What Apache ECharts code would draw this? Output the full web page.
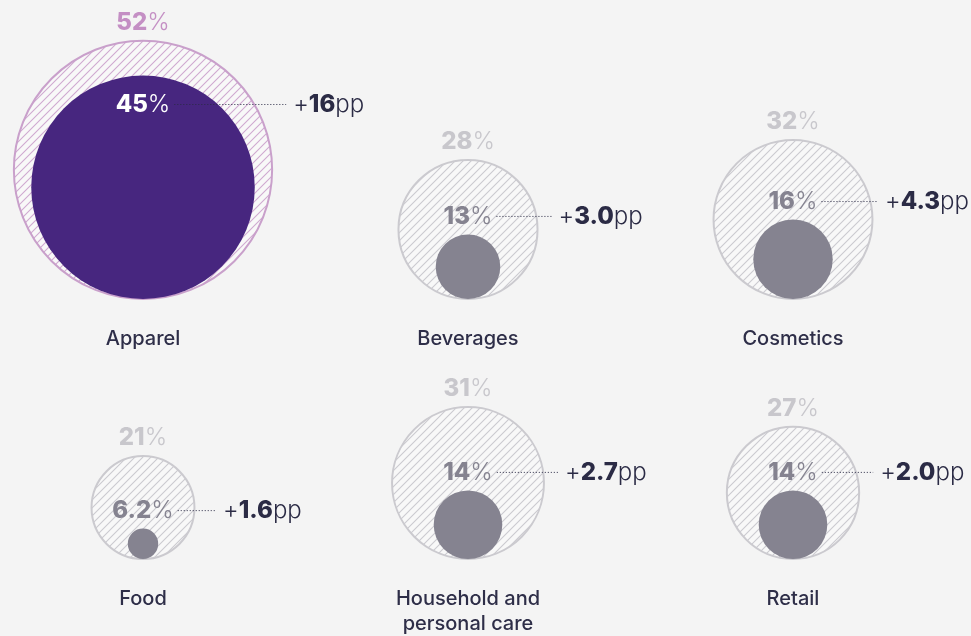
<!DOCTYPE html>
<html>
<head>
<meta charset="utf-8">
<script src="https://cdn.jsdelivr.net/npm/echarts@6/dist/echarts.min.js"></script>
<style>
  html, body { margin: 0; padding: 0; background: #f4f4f4; }
  #chart { width: 971px; height: 636px; }
</style>
</head>
<body>
<div id="chart"></div>
<script>
// categories, two rows of three
const rowOneCats = ['Apparel', 'Beverages', 'Cosmetics'];
const rowTwoCats = ['Food', 'Household and\npersonal care', 'Retail'];
// outer (hatched) circle values, %
const rowOneOuter = [52, 28, 32];
const rowTwoOuter = [21, 31, 27];
// inner (filled) circle values, %
const rowOneInner = [45, 13, 16];
const rowTwoInner = [6.2, 14, 14];
// change labels, percentage points
const rowOneChange = ['16', '3.0', '4.3'];
const rowTwoChange = ['1.6', '2.7', '2.0'];

const FONT = 'Inter, Lato, sans-serif';
const NUM_SIZE = 24;
const ctx = document.createElement('canvas').getContext('2d');
function textWidth(s, weight, size) {
  ctx.font = weight + ' ' + size + 'px ' + FONT;
  return ctx.measureText(s).width;
}

function hatch(lineColor) {
  const c = document.createElement('canvas');
  const s = 8;
  c.width = s; c.height = s;
  const g = c.getContext('2d');
  g.fillStyle = '#f8f8f8';
  g.fillRect(0, 0, s, s);
  g.strokeStyle = lineColor;
  g.lineWidth = 1.1;
  g.beginPath();
  g.moveTo(-1, s + 1); g.lineTo(s + 1, -1);
  g.moveTo(-1, 1); g.lineTo(1, -1);
  g.moveTo(s - 1, s + 1); g.lineTo(s + 1, s - 1);
  g.stroke();
  return { image: c, repeat: 'repeat' };
}
const hatchPurple = hatch('#cfa9d0');
const hatchGray = hatch('#cbcacf');

function fmt(v) { return Number.isInteger(v) ? String(v) : v.toFixed(1); }

function renderBubble(params, api) {
  const col = api.value(0);
  const outer = api.value(1);
  const inner = api.value(2);
  const change = params.seriesIndex === 0 ? rowOneChange[col] : rowTwoChange[col];
  const base = api.coord([col, 0]);
  const cx = base[0], by = base[1];
  const rO = api.size([0, outer])[1];
  const rI = api.size([0, inner])[1];
  const highlight = params.seriesIndex === 0 && col === 0;

  const strokeC = highlight ? '#c9a0cb' : '#cbcacf';
  const innerC = highlight ? '#47267f' : '#858390';
  const outerLabC = highlight ? '#c48fc4' : '#c8c7cc';

  const innerTop = by - 2 * rI;
  const inside = rI > 60;
  const ly = inside ? innerTop + 29 : innerTop - 18;
  const innerLabC = inside ? '#ffffff' : '#858390';

  const innerTxt = fmt(inner);
  const wInner = textWidth(innerTxt, 800, NUM_SIZE) + textWidth('%', 300, NUM_SIZE);
  const wPP = textWidth('+', 300, NUM_SIZE) + textWidth(change, 800, NUM_SIZE) + textWidth('pp', 300, NUM_SIZE);
  let ppX = cx + Math.max(80, rO + 21);
  ppX = Math.min(ppX, 969 - wPP);

  const rich = function (col) {
    return {
      b: { fontFamily: FONT, fontWeight: 800, fontSize: NUM_SIZE, fill: col },
      l: { fontFamily: FONT, fontWeight: 300, fontSize: NUM_SIZE, fill: col }
    };
  };

  return {
    type: 'group',
    children: [
      {
        type: 'circle',
        shape: { cx: cx, cy: by - rO, r: rO },
        style: { fill: highlight ? hatchPurple : hatchGray, stroke: strokeC, lineWidth: 2 }
      },
      {
        type: 'circle',
        shape: { cx: cx, cy: by - rI, r: rI },
        style: { fill: innerC }
      },
      {
        type: 'text',
        style: {
          x: cx, y: by - 2 * rO - 18,
          text: '{b|' + fmt(outer) + '}{l|%}',
          rich: rich(outerLabC),
          align: 'center', verticalAlign: 'middle'
        }
      },
      {
        type: 'text',
        style: {
          x: cx, y: ly,
          text: '{b|' + innerTxt + '}{l|%}',
          rich: rich(innerLabC),
          align: 'center', verticalAlign: 'middle'
        }
      },
      {
        type: 'line',
        shape: { x1: cx + wInner / 2 + 4, y1: ly, x2: ppX - 7, y2: ly },
        style: { stroke: '#2b2b45', lineWidth: 1, lineDash: [1, 2] }
      },
      {
        type: 'text',
        style: {
          x: ppX, y: ly,
          text: '{l|+}{b|' + change + '}{l|pp}',
          rich: rich('#2b2b45'),
          align: 'left', verticalAlign: 'middle'
        }
      }
    ]
  };
}

const chart = echarts.init(document.getElementById('chart'));

function rowData(outerArr, innerArr) {
  return outerArr.map(function (v, i) { return [i, v, innerArr[i]]; });
}

const axisCommon = {
  axisLine: { show: false },
  axisTick: { show: false },
  splitLine: { show: false }
};

chart.setOption({
  backgroundColor: '#f4f4f4',
  animation: false,
  grid: [
    { left: 143, right: 178, top: 1, height: 298 },
    { left: 143, right: 178, top: 265, height: 298 }
  ],
  xAxis: [0, 1].map(function (g) {
    return Object.assign({
      type: 'category',
      gridIndex: g,
      boundaryGap: false,
      data: g === 0 ? rowOneCats : rowTwoCats,
      axisLabel: {
        margin: 27,
        fontFamily: FONT,
        fontSize: 20,
        fontWeight: 500,
        lineHeight: 25,
        color: '#2e2e48',
        interval: 0
      }
    }, axisCommon);
  }),
  yAxis: [0, 1].map(function (g) {
    return Object.assign({
      type: 'value',
      gridIndex: g,
      min: 0,
      max: 120,
      axisLabel: { show: false }
    }, axisCommon);
  }),
  series: [
    {
      type: 'custom',
      xAxisIndex: 0, yAxisIndex: 0,
      renderItem: renderBubble,
      encode: { x: 0, y: 1 },
      data: rowData(rowOneOuter, rowOneInner),
      silent: true
    },
    {
      type: 'custom',
      xAxisIndex: 1, yAxisIndex: 1,
      renderItem: renderBubble,
      encode: { x: 0, y: 1 },
      data: rowData(rowTwoOuter, rowTwoInner),
      silent: true
    }
  ]
});
</script>
</body>
</html>
